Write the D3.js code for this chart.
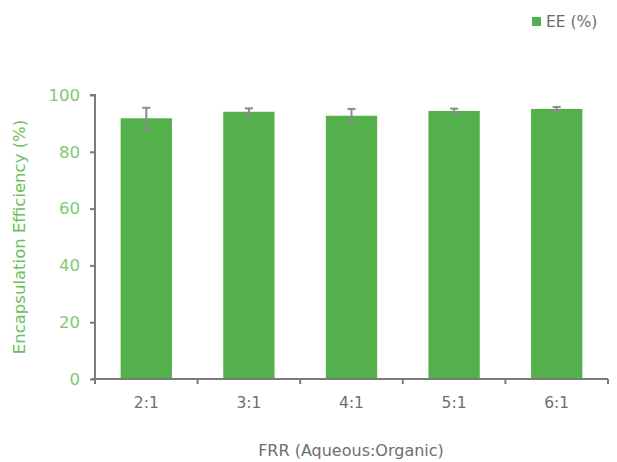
<!DOCTYPE html>
<html><head><meta charset="utf-8">
<script src="https://cdn.jsdelivr.net/npm/d3@7"></script>
<style>body{margin:0;background:#fff;}svg{display:block;font-family:"DejaVu Sans",sans-serif;}</style>
</head><body>
<svg id="c" width="617" height="462"></svg>
<script>
const categories = ["2:1","3:1","4:1","5:1","6:1"];
const values = [91.8, 94.1, 92.7, 94.4, 95.1];
const errors = [3.7, 1.2, 2.4, 0.8, 0.7];
const yTicks = [0,20,40,60,80,100];

const svg = d3.select("#c");
const m = {l:95, r:9, t:95, b:83};
const W = 617, H = 462;
const x = d3.scaleBand().domain(categories).range([m.l, W-m.r]).paddingInner(0.5).paddingOuter(0.25);
const y = d3.scaleLinear().domain([0,100]).range([H-m.b, m.t]);
const barColor = "#53b04a", axisColor = "#7a7a7a";

svg.selectAll("rect.bar").data(values).join("rect")
  .attr("x",(d,i)=>x(categories[i])).attr("width",x.bandwidth())
  .attr("y",d=>y(d)).attr("height",d=>y(0)-y(d)).attr("fill",barColor);

const eg = svg.append("g").attr("stroke","#8a8a8a").attr("stroke-width",2);
values.forEach((v,i)=>{
  const cx = x(categories[i]) + x.bandwidth()/2;
  eg.append("line").attr("x1",cx).attr("x2",cx).attr("y1",y(v+errors[i])).attr("y2",y(v-errors[i]));
  eg.append("line").attr("x1",cx-4).attr("x2",cx+4).attr("y1",y(v+errors[i])).attr("y2",y(v+errors[i]));
  eg.append("line").attr("x1",cx-4).attr("x2",cx+4).attr("y1",y(v-errors[i])).attr("y2",y(v-errors[i]));
});

// y axis
const ya = svg.append("g").attr("transform",`translate(${m.l},0)`)
  .call(d3.axisLeft(y).tickValues(yTicks).tickSize(5).tickPadding(10))
  .attr("font-family","DejaVu Sans").attr("font-size",17);
ya.select(".domain").attr("stroke",axisColor).attr("stroke-width",2).attr("d",`M-5,${y(100)}H0V${y(0)}`);
ya.selectAll(".tick line").attr("stroke",axisColor).attr("stroke-width",2);
ya.selectAll(".tick text").attr("fill","#80c870").style("font-size","16.5px");

// x axis
const xa = svg.append("g").attr("transform",`translate(0,${y(0)})`);
xa.append("line").attr("x1",m.l-3).attr("x2",W-m.r).attr("y1",0).attr("y2",0).attr("stroke",axisColor).attr("stroke-width",2);
const step = x.step();
const bounds = d3.range(categories.length+1).map(i=>m.l + i*step);
xa.selectAll("line.tk").data(bounds).join("line").attr("class","tk")
  .attr("x1",d=>d).attr("x2",d=>d).attr("y1",0).attr("y2",5).attr("stroke",axisColor).attr("stroke-width",2);
xa.selectAll("text.lb").data(categories).join("text").attr("class","lb")
  .attr("x",d=>x(d)+x.bandwidth()/2).attr("y",29).attr("text-anchor","middle")
  .attr("fill","#6e6e6e").attr("font-size",15.5).text(d=>d);

// titles
svg.append("text").attr("x",351).attr("y",456).attr("text-anchor","middle")
  .attr("fill","#6e6e6e").attr("font-size",16).text("FRR (Aqueous:Organic)");
svg.append("text").attr("transform",`translate(25,${(y(0)+y(100))/2}) rotate(-90)`).attr("text-anchor","middle")
  .attr("fill","#6cc05a").attr("font-size",16.5).text("Encapsulation Efficiency (%)");

// legend
svg.append("rect").attr("x",532).attr("y",17).attr("width",9).attr("height",9).attr("fill",barColor);
svg.append("text").attr("x",546).attr("y",27).attr("fill","#6e6e6e").attr("font-size",15.5).text("EE (%)");
</script>
</body></html>
